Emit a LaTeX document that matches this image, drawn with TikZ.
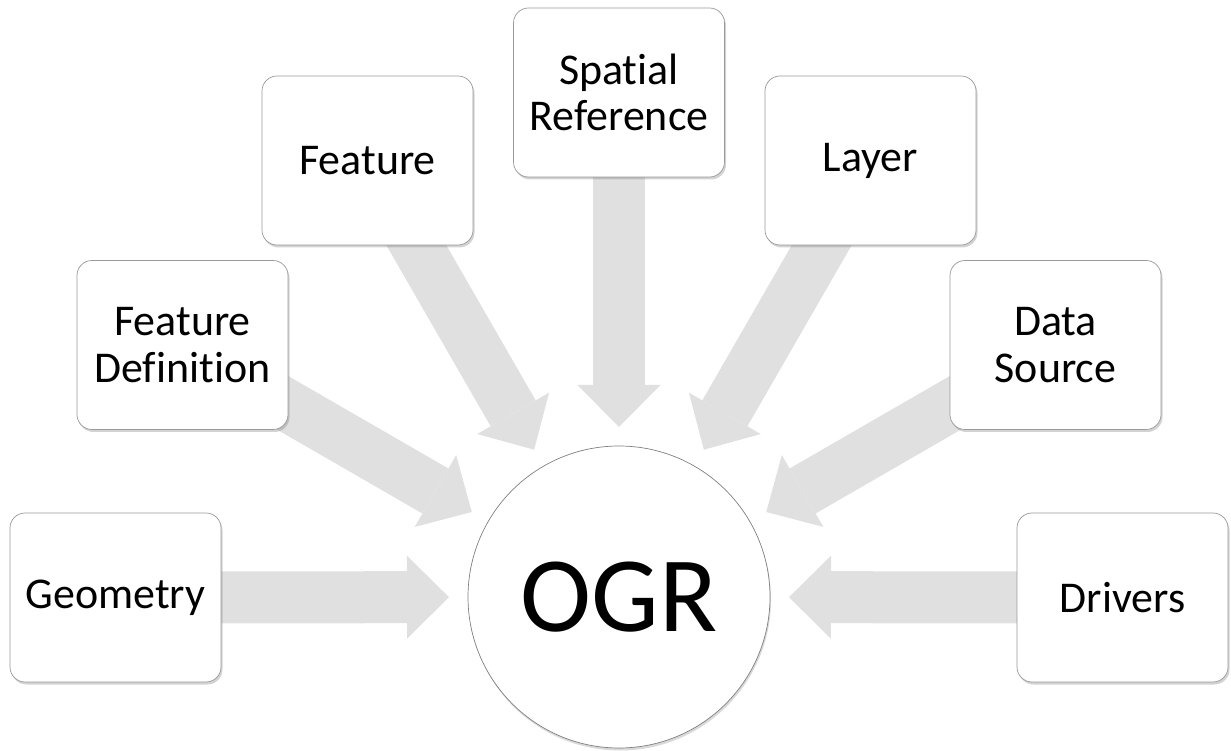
\documentclass[tikz,border=0pt]{standalone}
\usepackage{fontspec}
\setmainfont{Carlito}[Ligatures=NoCommon]
\usetikzlibrary{arrows.meta, calc, shadows, backgrounds}

\begin{document}
\begin{tikzpicture}[
    item/.style={rectangle, rounded corners=0.3cm, draw=black!40, fill=white,
                 minimum width=4.22cm, minimum height=3.38cm, align=center,
                 font=\fontsize{25}{26.5}\selectfont,
                 drop shadow={shadow xshift=0.03cm, shadow yshift=-0.05cm,
                              opacity=0.35}},
    core/.style={circle, draw=black!50, fill=white, minimum size=6.04cm,
                 font=\fontsize{61}{61}\selectfont,
                 drop shadow={shadow xshift=0.02cm, shadow yshift=-0.05cm,
                              opacity=0.3}},
    feed/.style={line width=1.04cm, draw=black!12,
                 -{Triangle[length=0.84cm, width=1.66cm, line width=0pt]}}
]
\useasboundingbox (0, 0) rectangle (24.62, -15.02);

\node[core] (ogr) at (12.38, -11.94) {OGR};

\node[item] (geometry) at (2.31, -11.95) {Geometry};
\node[item] (featdef)  at (3.65, -6.90)  {Feature\\Definition};
\node[item] (feature)  at (7.35, -3.21)  {Feature};
\node[item] (spatial)  at (12.38, -1.85) {Spatial\\Reference};
\node[item] (layer)    at (17.41, -3.21) {Layer};
\node[item] (source)   at (21.11, -6.90) {Data\\Source};
\node[item] (drivers)  at (22.45, -11.95) {Drivers};

\begin{pgfonlayer}{background}
\draw[feed] (geometry.center) -- ($(ogr.center)!3.4cm!(geometry.center)$);
\draw[feed] (featdef.center)  -- ($(ogr.center)!3.4cm!(featdef.center)$);
\draw[feed] (feature.center)  -- ($(ogr.center)!3.4cm!(feature.center)$);
\draw[feed] (spatial.center)  -- ($(ogr.center)!3.4cm!(spatial.center)$);
\draw[feed] (layer.center)    -- ($(ogr.center)!3.4cm!(layer.center)$);
\draw[feed] (source.center)   -- ($(ogr.center)!3.4cm!(source.center)$);
\draw[feed] (drivers.center)  -- ($(ogr.center)!3.4cm!(drivers.center)$);
\end{pgfonlayer}
\end{tikzpicture}
\end{document}
